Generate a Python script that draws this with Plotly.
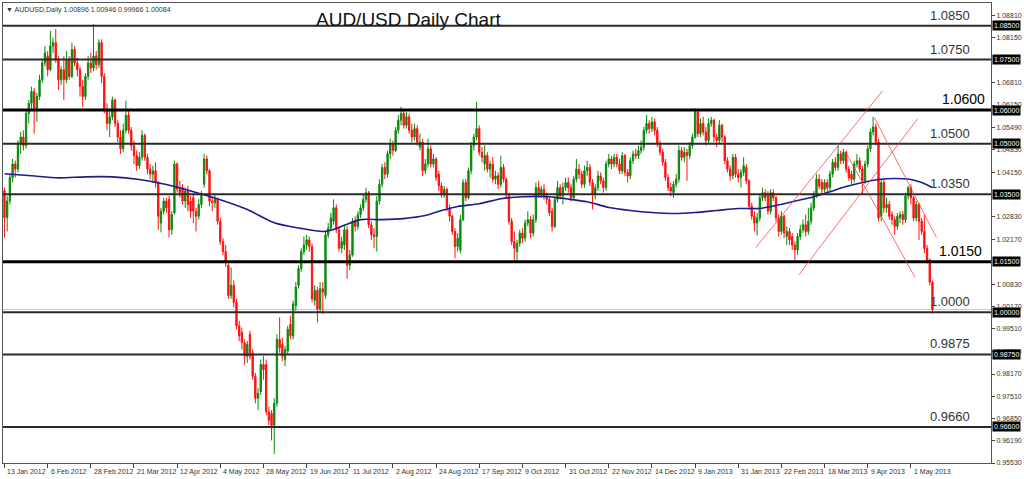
import plotly.graph_objects as go

# ---------------- data ----------------
opens = [
1.0361,1.0281,1.0330,1.0400,1.0440,1.0425,1.0500,1.0520,1.0495,1.0590,
1.0620,1.0655,1.0605,1.0640,1.0690,1.0740,1.0760,1.0720,1.0790,1.0800,
1.0750,1.0690,1.0720,1.0690,1.0750,1.0700,1.0780,1.0740,1.0720,1.0670,
1.0640,1.0700,1.0740,1.0725,1.0760,1.0735,1.0800,1.0700,1.0600,1.0560,
1.0580,1.0630,1.0560,1.0520,1.0485,1.0540,1.0585,1.0540,1.0495,1.0465,
1.0435,1.0460,1.0525,1.0460,1.0425,1.0410,1.0420,1.0385,1.0265,1.0300,
1.0330,1.0335,1.0245,1.0295,1.0440,1.0365,1.0370,1.0330,1.0360,1.0330,
1.0340,1.0300,1.0285,1.0320,1.0380,1.0455,1.0420,1.0330,1.0325,1.0335,
1.0270,1.0210,1.0180,1.0140,1.0050,1.0080,1.0030,0.9960,0.9940,0.9910,
0.9870,0.9935,0.9880,0.9810,0.9745,0.9765,0.9845,0.9845,0.9705,0.9700,
0.9665,0.9730,0.9920,0.9905,0.9860,0.9885,0.9965,0.9930,1.0020,1.0080,
1.0130,1.0180,1.0200,1.0215,1.0195,1.0035,1.0065,1.0010,1.0070,1.0050,
1.0230,1.0250,1.0270,1.0310,1.0245,1.0190,1.0200,1.0245,1.0140,1.0170,
1.0270,1.0255,1.0290,1.0310,1.0335,1.0355,1.0260,1.0230,1.0225,1.0330,
1.0380,1.0430,1.0410,1.0470,1.0500,1.0480,1.0540,1.0570,1.0590,1.0555,
1.0580,1.0540,1.0520,1.0545,1.0490,1.0505,1.0420,1.0440,1.0485,1.0440,
1.0455,1.0410,1.0375,1.0350,1.0365,1.0310,1.0285,1.0240,1.0195,1.0185,
1.0275,1.0385,1.0340,1.0420,1.0495,1.0520,1.0545,1.0475,1.0440,1.0465,
1.0425,1.0440,1.0395,1.0405,1.0380,1.0430,1.0395,1.0350,1.0270,1.0210,
1.0180,1.0205,1.0235,1.0220,1.0265,1.0275,1.0235,1.0275,1.0370,1.0350,
1.0365,1.0345,1.0335,1.0300,1.0255,1.0335,1.0370,1.0345,1.0370,1.0385,
1.0370,1.0340,1.0395,1.0425,1.0410,1.0380,1.0420,1.0430,1.0385,1.0350,
1.0370,1.0405,1.0390,1.0370,1.0440,1.0455,1.0440,1.0460,1.0440,1.0420,
1.0465,1.0415,1.0405,1.0450,1.0470,1.0465,1.0480,1.0490,1.0540,1.0560,
1.0545,1.0565,1.0540,1.0500,1.0475,1.0445,1.0400,1.0370,1.0355,1.0380,
1.0395,1.0480,1.0460,1.0475,1.0465,1.0495,1.0520,1.0595,1.0530,1.0560,
1.0535,1.0510,1.0560,1.0570,1.0520,1.0510,1.0555,1.0520,1.0450,1.0425,
1.0405,1.0460,1.0410,1.0400,1.0415,1.0430,1.0390,1.0315,1.0285,1.0265,
1.0280,1.0340,1.0355,1.0350,1.0300,1.0355,1.0340,1.0280,1.0240,1.0285,
1.0225,1.0240,1.0225,1.0200,1.0185,1.0225,1.0245,1.0260,1.0240,1.0270,
1.0310,1.0350,1.0395,1.0385,1.0365,1.0385,1.0370,1.0410,1.0445,1.0430,
1.0470,1.0450,1.0475,1.0425,1.0410,1.0395,1.0440,1.0450,1.0425,1.0390,
1.0440,1.0485,1.0535,1.0550,1.0505,1.0285,1.0385,1.0310,1.0320,1.0290,
1.0275,1.0255,1.0280,1.0290,1.0275,1.0345,1.0370,1.0340,1.0280,1.0320,
1.0270,1.0240,1.0190,1.0155,1.00896]

highs = [
1.0370,1.0345,1.0410,1.0455,1.0450,1.0510,1.0535,1.0540,1.0600,1.0630,
1.0670,1.0665,1.0650,1.0705,1.0750,1.0790,1.0775,1.0835,1.0815,1.0840,
1.0760,1.0730,1.0760,1.0775,1.0760,1.0800,1.0790,1.0755,1.0730,1.0690,
1.0710,1.0760,1.0770,1.0855,1.0775,1.0810,1.0810,1.0710,1.0620,1.0600,
1.0640,1.0635,1.0570,1.0540,1.0560,1.0628,1.0600,1.0550,1.0510,1.0480,
1.0475,1.0540,1.0530,1.0470,1.0440,1.0435,1.0445,1.0390,1.0310,1.0340,
1.0340,1.0345,1.0300,1.0450,1.0445,1.0390,1.0380,1.0370,1.0375,1.0345,
1.0350,1.0310,1.0335,1.0360,1.0470,1.0465,1.0425,1.0345,1.0350,1.0340,
1.0280,1.0220,1.0200,1.0150,1.0133,1.0095,1.0040,0.9975,0.9955,0.9920,
0.9915,0.9945,0.9890,0.9820,0.9775,0.9860,0.9870,0.9860,0.9720,0.9710,
0.9745,0.9935,0.9985,0.9925,0.9900,0.9960,0.9990,1.0035,1.0090,1.0140,
1.0190,1.0225,1.0230,1.0225,1.0205,1.0080,1.0075,1.0090,1.0090,1.0240,
1.0265,1.0295,1.0335,1.0320,1.0255,1.0225,1.0260,1.0255,1.0185,1.0280,
1.0285,1.0300,1.0320,1.0350,1.0370,1.0360,1.0270,1.0250,1.0345,1.0395,
1.0440,1.0445,1.0480,1.0515,1.0510,1.0550,1.0585,1.0610,1.0600,1.0595,
1.0590,1.0560,1.0560,1.0555,1.0530,1.0515,1.0455,1.0515,1.0495,1.0470,
1.0460,1.0420,1.0385,1.0375,1.0370,1.0320,1.0290,1.0250,1.0235,1.0290,
1.0395,1.0395,1.0430,1.0505,1.0530,1.0625,1.0555,1.0490,1.0495,1.0475,
1.0450,1.0460,1.0420,1.0415,1.0465,1.0440,1.0400,1.0355,1.0280,1.0240,
1.0215,1.0245,1.0250,1.0275,1.0300,1.0285,1.0290,1.0385,1.0390,1.0375,
1.0380,1.0355,1.0340,1.0310,1.0345,1.0390,1.0380,1.0385,1.0400,1.0400,
1.0380,1.0405,1.0455,1.0440,1.0420,1.0435,1.0450,1.0440,1.0395,1.0380,
1.0420,1.0415,1.0400,1.0450,1.0470,1.0465,1.0470,1.0470,1.0455,1.0475,
1.0470,1.0425,1.0460,1.0480,1.0485,1.0495,1.0510,1.0550,1.0585,1.0570,
1.0580,1.0575,1.0550,1.0510,1.0485,1.0455,1.0410,1.0385,1.0390,1.0410,
1.0495,1.0490,1.0490,1.0485,1.0505,1.0530,1.0605,1.0600,1.0575,1.0580,
1.0550,1.0575,1.0580,1.0575,1.0530,1.0570,1.0560,1.0525,1.0460,1.0435,
1.0470,1.0470,1.0425,1.0425,1.0460,1.0440,1.0395,1.0325,1.0300,1.0295,
1.0350,1.0370,1.0365,1.0360,1.0365,1.0365,1.0345,1.0290,1.0300,1.0290,
1.0255,1.0250,1.0235,1.0210,1.0235,1.0260,1.0275,1.0290,1.0310,1.0325,
1.0360,1.0410,1.0410,1.0395,1.0395,1.0395,1.0420,1.0455,1.0460,1.0495,
1.0480,1.0485,1.0480,1.0435,1.0420,1.0450,1.0470,1.0460,1.0435,1.0450,
1.0495,1.0545,1.0580,1.0560,1.0515,1.0395,1.0395,1.0340,1.0330,1.0300,
1.0285,1.0295,1.0300,1.0300,1.0355,1.0375,1.0380,1.0345,1.0330,1.0325,
1.0280,1.0290,1.0200,1.0160,1.00946]

lows = [
1.0222,1.0240,1.0320,1.0385,1.0400,1.0415,1.0470,1.0480,1.0485,1.0560,
1.0600,1.0530,1.0565,1.0630,1.0680,1.0730,1.0700,1.0715,1.0770,1.0740,
1.0660,1.0675,1.0630,1.0680,1.0690,1.0695,1.0730,1.0700,1.0640,1.0610,
1.0630,1.0690,1.0710,1.0715,1.0720,1.0725,1.0680,1.0590,1.0540,1.0520,
1.0570,1.0550,1.0505,1.0470,1.0475,1.0530,1.0530,1.0480,1.0440,1.0420,
1.0425,1.0450,1.0450,1.0410,1.0395,1.0385,1.0370,1.0245,1.0237,1.0290,
1.0295,1.0222,1.0230,1.0290,1.0355,1.0340,1.0320,1.0310,1.0300,1.0280,
1.0265,1.0240,1.0275,1.0310,1.0370,1.0410,1.0315,1.0300,1.0310,1.0260,
1.0200,1.0170,1.0135,1.0040,1.0040,1.0015,0.9950,0.9915,0.9890,0.9845,
0.9850,0.9860,0.9800,0.9730,0.9710,0.9755,0.9800,0.9695,0.9665,0.9620,
0.9580,0.9720,0.9880,0.9855,0.9840,0.9875,0.9920,0.9920,1.0005,1.0070,
1.0120,1.0170,1.0185,1.0180,1.0030,1.0020,0.9970,1.0000,0.9995,1.0040,
1.0220,1.0240,1.0260,1.0235,1.0180,1.0175,1.0185,1.0100,1.0125,1.0165,
1.0240,1.0245,1.0280,1.0300,1.0325,1.0250,1.0215,1.0190,1.0180,1.0320,
1.0370,1.0395,1.0400,1.0455,1.0465,1.0475,1.0530,1.0555,1.0545,1.0545,
1.0530,1.0505,1.0510,1.0495,1.0480,1.0405,1.0410,1.0430,1.0430,1.0430,
1.0390,1.0360,1.0340,1.0340,1.0300,1.0270,1.0230,1.0160,1.0180,1.0175,
1.0270,1.0330,1.0335,1.0410,1.0480,1.0510,1.0465,1.0445,1.0420,1.0415,
1.0400,1.0385,1.0380,1.0365,1.0370,1.0385,1.0340,1.0260,1.0200,1.0150,
1.0150,1.0195,1.0205,1.0210,1.0255,1.0220,1.0225,1.0265,1.0340,1.0340,
1.0335,1.0320,1.0285,1.0240,1.0250,1.0325,1.0335,1.0320,1.0360,1.0355,
1.0330,1.0335,1.0385,1.0395,1.0370,1.0370,1.0405,1.0375,1.0305,1.0335,
1.0360,1.0380,1.0355,1.0360,1.0430,1.0425,1.0430,1.0430,1.0410,1.0410,
1.0405,1.0385,1.0395,1.0440,1.0455,1.0455,1.0470,1.0480,1.0530,1.0530,
1.0535,1.0525,1.0490,1.0465,1.0435,1.0390,1.0360,1.0345,1.0340,1.0370,
1.0385,1.0450,1.0445,1.0390,1.0455,1.0485,1.0515,1.0520,1.0520,1.0525,
1.0495,1.0500,1.0550,1.0505,1.0490,1.0500,1.0505,1.0440,1.0415,1.0390,
1.0395,1.0400,1.0385,1.0370,1.0405,1.0380,1.0305,1.0275,1.0240,1.0228,
1.0270,1.0330,1.0330,1.0290,1.0290,1.0330,1.0270,1.0225,1.0230,1.0220,
1.0200,1.0200,1.0185,1.0150,1.0170,1.0215,1.0235,1.0225,1.0230,1.0260,
1.0300,1.0340,1.0365,1.0350,1.0355,1.0355,1.0360,1.0400,1.0420,1.0420,
1.0440,1.0440,1.0415,1.0390,1.0380,1.0385,1.0430,1.0415,1.0350,1.0380,
1.0430,1.0475,1.0525,1.0495,1.0270,1.0270,1.0295,1.0295,1.0275,1.0260,
1.0230,1.0245,1.0265,1.0260,1.0265,1.0335,1.0320,1.0270,1.0270,1.0215,
1.0230,1.0175,1.0145,1.0080,0.99966]

closes = [
1.0281,1.0330,1.0400,1.0440,1.0425,1.0500,1.0520,1.0495,1.0590,1.0620,
1.0655,1.0605,1.0640,1.0690,1.0740,1.0770,1.0720,1.0790,1.0800,1.0750,
1.0690,1.0720,1.0690,1.0750,1.0700,1.0780,1.0740,1.0720,1.0670,1.0640,
1.0700,1.0740,1.0725,1.0760,1.0735,1.0800,1.0700,1.0600,1.0560,1.0580,
1.0630,1.0560,1.0520,1.0485,1.0540,1.0585,1.0540,1.0495,1.0465,1.0435,
1.0460,1.0525,1.0460,1.0425,1.0410,1.0420,1.0385,1.0285,1.0300,1.0330,
1.0310,1.0245,1.0290,1.0440,1.0365,1.0355,1.0330,1.0360,1.0320,1.0300,
1.0300,1.0285,1.0320,1.0350,1.0455,1.0420,1.0330,1.0325,1.0335,1.0270,
1.0210,1.0180,1.0150,1.0050,1.0080,1.0030,0.9960,0.9930,0.9910,0.9870,
0.9905,0.9870,0.9810,0.9745,0.9760,0.9845,0.9830,0.9705,0.9680,0.9665,
0.9730,0.9920,0.9895,0.9870,0.9890,0.9950,0.9930,1.0025,1.0075,1.0130,
1.0180,1.0200,1.0215,1.0195,1.0040,1.0065,1.0010,1.0070,1.0060,1.0230,
1.0250,1.0280,1.0310,1.0245,1.0190,1.0210,1.0245,1.0140,1.0170,1.0270,
1.0255,1.0290,1.0310,1.0335,1.0355,1.0260,1.0230,1.0225,1.0330,1.0380,
1.0430,1.0410,1.0470,1.0500,1.0480,1.0540,1.0570,1.0590,1.0555,1.0580,
1.0540,1.0520,1.0545,1.0505,1.0505,1.0420,1.0440,1.0485,1.0440,1.0455,
1.0400,1.0375,1.0350,1.0365,1.0310,1.0285,1.0240,1.0195,1.0220,1.0275,
1.0385,1.0340,1.0420,1.0495,1.0520,1.0545,1.0475,1.0460,1.0465,1.0425,
1.0440,1.0395,1.0405,1.0380,1.0430,1.0395,1.0350,1.0270,1.0210,1.0190,
1.0205,1.0235,1.0220,1.0265,1.0275,1.0235,1.0275,1.0370,1.0350,1.0365,
1.0345,1.0335,1.0295,1.0255,1.0335,1.0370,1.0345,1.0370,1.0385,1.0370,
1.0340,1.0395,1.0425,1.0410,1.0380,1.0420,1.0430,1.0385,1.0350,1.0370,
1.0405,1.0390,1.0370,1.0440,1.0455,1.0440,1.0460,1.0440,1.0420,1.0465,
1.0415,1.0405,1.0450,1.0470,1.0465,1.0480,1.0490,1.0540,1.0560,1.0545,
1.0565,1.0540,1.0500,1.0475,1.0445,1.0400,1.0370,1.0360,1.0380,1.0395,
1.0480,1.0460,1.0475,1.0465,1.0495,1.0520,1.0595,1.0530,1.0560,1.0535,
1.0510,1.0560,1.0570,1.0520,1.0510,1.0555,1.0520,1.0450,1.0425,1.0405,
1.0460,1.0410,1.0400,1.0415,1.0435,1.0390,1.0315,1.0285,1.0265,1.0280,
1.0340,1.0355,1.0340,1.0300,1.0355,1.0340,1.0280,1.0240,1.0285,1.0235,
1.0240,1.0215,1.0200,1.0185,1.0225,1.0245,1.0260,1.0240,1.0270,1.0310,
1.0350,1.0395,1.0375,1.0365,1.0385,1.0370,1.0410,1.0445,1.0430,1.0470,
1.0450,1.0475,1.0425,1.0400,1.0395,1.0440,1.0450,1.0425,1.0390,1.0440,
1.0485,1.0535,1.0550,1.0505,1.0280,1.0385,1.0310,1.0320,1.0285,1.0275,
1.0255,1.0285,1.0290,1.0275,1.0345,1.0370,1.0340,1.0280,1.0320,1.0270,
1.0240,1.0190,1.0155,1.0090,1.00084]

bar_index = list(range(len(closes)))

# moving average
ma_index = [0, 10, 20, 30, 40, 50, 60, 70, 80, 90, 100, 110, 118, 122, 126, 132, 140, 148,
            156, 162, 168, 176, 184, 192, 202, 208, 216, 224, 232, 240, 248, 256, 264, 272,
            280, 286, 292, 300, 306, 312, 318, 324, 330, 336, 340, 344]
ma_values = [1.0411, 1.0405, 1.0399, 1.0402, 1.0402, 1.0394, 1.0379, 1.0358, 1.0334, 1.0305,
             1.0266, 1.0249, 1.0240, 1.0246, 1.0258, 1.0275, 1.0275, 1.0278, 1.0287, 1.0302,
             1.0314, 1.0322, 1.0337, 1.0343, 1.0343, 1.0337, 1.0328, 1.0311, 1.0302, 1.0296,
             1.0293, 1.0296, 1.0302, 1.0308, 1.0308, 1.0317, 1.0328, 1.0343, 1.0358, 1.0373,
             1.0385, 1.0394, 1.0397, 1.0394, 1.0385, 1.0370]

# support / resistance levels and labels
levels = [1.0850, 1.0750, 1.0600, 1.0500, 1.0350, 1.0150, 1.0000, 0.9875, 0.9660]
level_labels = ["1.0850", "1.0750", "1.0600", "1.0500", "1.0350", "1.0150", "1.0000", "0.9875", "0.9660"]
major_levels = [1.0600, 1.0150]

# red channel lines: (start bar, start price, end bar, end price)
trend_x0 = [278.5, 294.5, 322.5, 312.5]
trend_y0 = [1.0192, 1.0112, 1.0577, 1.0465]
trend_x1 = [325.5, 338.5, 345.5, 337.5]
trend_y1 = [1.0657, 1.0574, 1.0222, 1.0104]

# axis labels
date_tick_index = list(range(0, 337, 16))
date_tick_labels = ["13 Jan 2012", "6 Feb 2012", "28 Feb 2012", "21 Mar 2012", "12 Apr 2012",
                    "4 May 2012", "28 May 2012", "19 Jun 2012", "11 Jul 2012", "2 Aug 2012",
                    "24 Aug 2012", "17 Sep 2012", "9 Oct 2012", "31 Oct 2012", "22 Nov 2012",
                    "14 Dec 2012", "9 Jan 2013", "31 Jan 2013", "22 Feb 2013", "18 Mar 2013",
                    "9 Apr 2013", "1 May 2013"]
price_ticks = [1.08810, 1.08150, 1.06810, 1.06150, 1.05490, 1.04830, 1.04150, 1.02830, 1.02170,
               1.00830, 1.00170, 0.99510, 0.98850, 0.98170, 0.97510, 0.96850, 0.96190, 0.95530]
header_text = "▼ AUDUSD,Daily 1.00896 1.00946 0.99966 1.00084"
title_text = "AUD/USD Daily Chart"

# ---------------- figure ----------------
FONT = "Liberation Sans, Arial, sans-serif"
fig = go.Figure()

fig.add_trace(go.Candlestick(
    x=bar_index, open=opens, high=highs, low=lows, close=closes,
    increasing=dict(line=dict(color="#0a8a0a", width=1), fillcolor="#0a8a0a"),
    decreasing=dict(line=dict(color="#ff1010", width=1), fillcolor="#ff1010"),
    whiskerwidth=0, showlegend=False, hoverinfo="skip"))

fig.add_trace(go.Scatter(
    x=ma_index, y=ma_values, mode="lines",
    line=dict(color="#1c1c8c", width=1.6, shape="spline", smoothing=0.8),
    showlegend=False, hoverinfo="skip"))

shapes = []
for lv in levels:
    major = lv in major_levels
    shapes.append(dict(type="line", xref="paper", x0=0, x1=1, yref="y", y0=lv, y1=lv,
                       line=dict(color="#000000" if major else "#2a2a2a", width=3 if major else 2),
                       layer="above"))
# current bid line
shapes.append(dict(type="line", xref="paper", x0=0, x1=1, yref="y", y0=closes[-1], y1=closes[-1],
                   line=dict(color="#c8c8c8", width=1), layer="below"))
for a, b, c, d in zip(trend_x0, trend_y0, trend_x1, trend_y1):
    shapes.append(dict(type="line", xref="x", yref="y", x0=a, y0=b, x1=c, y1=d,
                       line=dict(color="rgba(255,60,60,0.75)", width=1), layer="above"))

annotations = []
for lv, txt in zip(levels, level_labels):
    major = lv in major_levels
    annotations.append(dict(xref="paper", x=0.9487 if lv == 1.0600 else (0.9457 if lv == 1.0150 else 0.9367),
                            yref="y", y=lv, text=txt, showarrow=False, xanchor="left", yanchor="bottom",
                            yshift=1,
                            font=dict(family=FONT, size=14 if major else 13,
                                      color="#000000" if major else "#333333")))
    annotations.append(dict(xref="paper", x=1, xshift=1, yref="y", y=lv, text=f"{lv:.5f}",
                            showarrow=False, xanchor="left", yanchor="middle", bgcolor="#000000",
                            borderpad=1, font=dict(family=FONT, size=7, color="#ffffff")))
for xi, txt in zip(date_tick_index, date_tick_labels):
    annotations.append(dict(xref="x", x=xi, yref="paper", y=0, yanchor="top", yshift=-3,
                            xanchor="left", xshift=1, text=txt, showarrow=False,
                            font=dict(family=FONT, size=7, color="#333333")))
annotations.append(dict(xref="paper", x=0.0, xshift=1, yref="paper", y=1, yshift=-1, yanchor="top",
                        xanchor="left", text=header_text, showarrow=False,
                        font=dict(family=FONT, size=7, color="#333333")))
annotations.append(dict(xref="paper", x=0.41, yref="paper", y=1, yshift=-4, yanchor="top",
                        xanchor="center", text=title_text, showarrow=False,
                        font=dict(family=FONT, size=19, color="#111111")))

fig.update_layout(
    width=1024, height=479,
    margin=dict(l=2, r=27, t=2, b=16),
    paper_bgcolor="white", plot_bgcolor="white",
    shapes=shapes, annotations=annotations,
    xaxis=dict(range=[-0.55, 365.7], rangeslider=dict(visible=False), showgrid=False, zeroline=False,
               tickvals=date_tick_index, showticklabels=False, ticks="outside", ticklen=4,
               tickcolor="#444444", showline=True, linecolor="#555555", linewidth=1, mirror=True),
    yaxis=dict(range=[0.95530, 1.09177], side="right", showgrid=False, zeroline=False,
               tickvals=price_ticks, ticktext=[f"{v:.5f}" for v in price_ticks],
               ticks="outside", ticklen=3, tickcolor="#444444",
               tickfont=dict(family=FONT, size=7, color="#333333"),
               showline=True, linecolor="#555555", linewidth=1, mirror=True),
    font=dict(family=FONT),
)

fig.write_html("out.html", config={"displayModeBar": False},
               post_script="document.body.style.margin='0';document.body.style.overflow='hidden';")
